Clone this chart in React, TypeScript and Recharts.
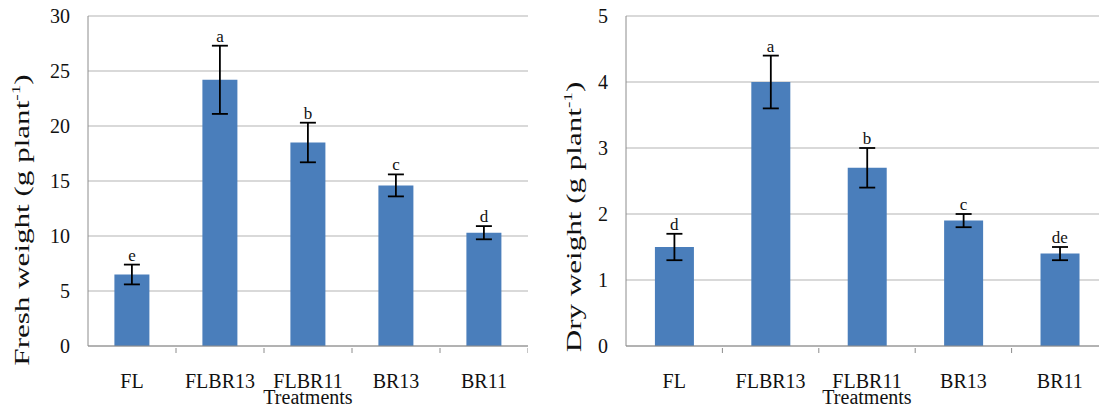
import { Bar, CartesianGrid, ComposedChart, ErrorBar, LabelList, Line, XAxis, YAxis } from "recharts";

const treatments = ["FL", "FLBR13", "FLBR11", "BR13", "BR11"];

const freshWeight = [6.5, 24.2, 18.5, 14.6, 10.3];
const freshError = [0.9, 3.1, 1.8, 1.0, 0.6];
const freshLetters = ["e", "a", "b", "c", "d"];
const freshTicks = [0, 5, 10, 15, 20, 25, 30];

const dryWeight = [1.5, 4.0, 2.7, 1.9, 1.4];
const dryError = [0.2, 0.4, 0.3, 0.1, 0.1];
const dryLetters = ["d", "a", "b", "c", "de"];
const dryTicks = [0, 1, 2, 3, 4, 5];

const FONT = "Liberation Serif";
const BAR_COLOR = "#4a7ebb";
const GRID_COLOR = "#b3b3b3";
const AXIS_COLOR = "#8c8c8c";

function rows(values: number[], errors: number[], letters: string[]) {
  return treatments.map((name, i) => ({
    name,
    value: values[i],
    err: errors[i],
    top: values[i] + errors[i],
    letter: letters[i]
  }));
}

function makeTick(band: number) {
  return function CategoryTick(props: any) {
    const { x, y, payload } = props;
    return (
      <g>
        <line x1={x + band / 2} y1={y} x2={x + band / 2} y2={y + 5} stroke={AXIS_COLOR} />
        <text x={x} y={y} dy={40} textAnchor="middle" fontSize={20} fill="#111" fontFamily={FONT}>
          {payload.value}
        </text>
      </g>
    );
  };
}

// the rotated axis title is stretched along its length in the original figure
function YTitle({ x, y, text }: { x: number; y: number; text: string }) {
  return (
    <text
      transform={`translate(${x}, ${y}) rotate(-90) scale(1.48, 1)`}
      textAnchor="middle"
      dominantBaseline="central"
      fontSize={21}
      fill="#111"
      fontFamily={FONT}
    >
      {text}
      <tspan fontSize={13} dy={-7}>-1</tspan>
      <tspan dy={7}>)</tspan>
    </text>
  );
}

type PanelProps = {
  left: number;
  width: number;
  axisWidth: number;
  ticks: number[];
  title: string;
  titleX: number;
  titleY: number;
  data: ReturnType<typeof rows>;
};

function Panel({ left, width, axisWidth, ticks, title, titleX, titleY, data }: PanelProps) {
  const band = (width - axisWidth) / treatments.length;
  return (
    <div style={{ position: "absolute", left, top: 0 }}>
      <ComposedChart
        width={width}
        height={408}
        data={data}
        margin={{ top: 16, right: 0, bottom: 0, left: 0 }}
        barCategoryGap="30%"
      >
        <CartesianGrid vertical={false} stroke={GRID_COLOR} />
        <XAxis
          dataKey="name"
          height={62}
          stroke={AXIS_COLOR}
          tickLine={false}
          tickSize={0}
          tick={makeTick(band)}
          label={{ value: "Treatments", position: "insideBottom", offset: 4, fontSize: 20, fill: "#111", fontFamily: FONT }}
        />
        <YAxis
          width={axisWidth}
          domain={[ticks[0], ticks[ticks.length - 1]]}
          ticks={ticks}
          interval={0}
          stroke={AXIS_COLOR}
          tickLine={false}
          tickSize={0}
          tickMargin={18}
          tick={{ fontSize: 20, fill: "#111", fontFamily: FONT }}
          label={{ content: () => <YTitle x={titleX} y={titleY} text={title} /> }}
        />
        <Bar dataKey="value" fill={BAR_COLOR} isAnimationActive={false}>
          <ErrorBar dataKey="err" width={8} stroke="#000" strokeWidth={1.8} isAnimationActive={false} />
        </Bar>
        <Line dataKey="top" stroke="none" dot={false} activeDot={false} isAnimationActive={false} legendType="none">
          <LabelList dataKey="letter" position="top" offset={4} fontSize={17} fill="#111" fontFamily={FONT} />
        </Line>
      </ComposedChart>
    </div>
  );
}

export default function App() {
  return (
    <div
      style={{
        position: "absolute",
        left: 0,
        top: 0,
        width: 1099,
        height: 408,
        overflow: "hidden",
        background: "#fff",
        fontFamily: FONT
      }}
    >
      <Panel
        left={0}
        width={528}
        axisWidth={88}
        ticks={freshTicks}
        title="Fresh weight (g plant"
        titleX={22}
        titleY={220}
        data={rows(freshWeight, freshError, freshLetters)}
      />
      <Panel
        left={540}
        width={568}
        axisWidth={86}
        ticks={dryTicks}
        title="Dry weight (g plant"
        titleX={34}
        titleY={217}
        data={rows(dryWeight, dryError, dryLetters)}
      />
    </div>
  );
}
